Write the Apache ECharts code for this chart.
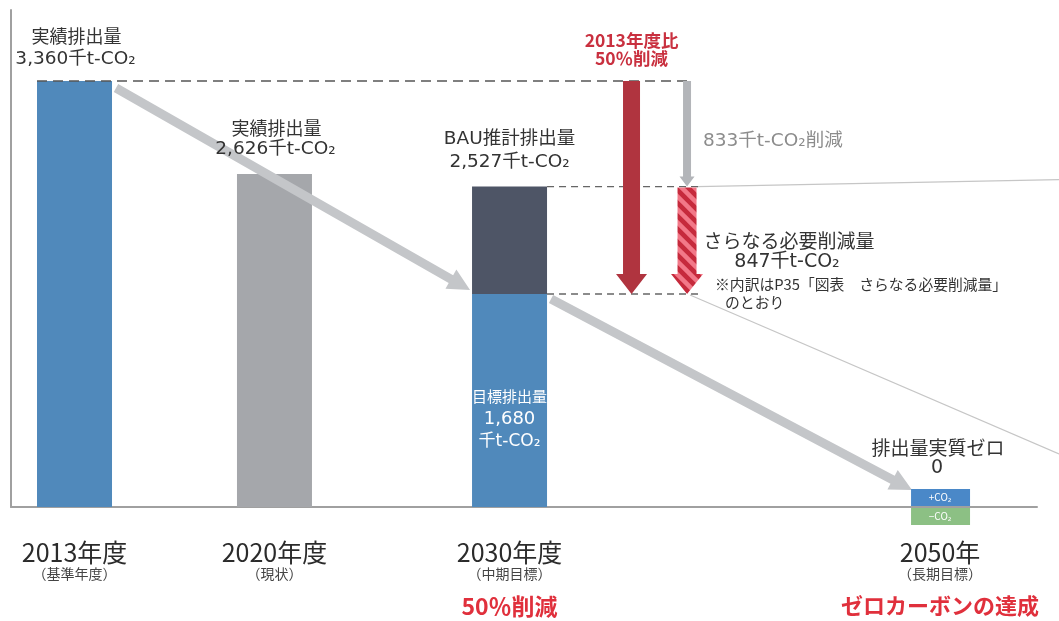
<!DOCTYPE html>
<html><head><meta charset="utf-8">
<script src="https://cdn.jsdelivr.net/npm/echarts@6/dist/echarts.min.js"></script>
<style>html,body{margin:0;padding:0;background:#fff}#c{width:1059px;height:621px}</style>
</head><body><div id="c"></div>
<script>
// ---------------- data ----------------
const categories = ['2013年度', '2020年度', '2030年度', '2050年'];
const categoryNotes = ['（基準年度）', '（現状）', '（中期目標）', '（長期目標）'];
const actualEmissions = [3360, 2626];   // 実績排出量 2013, 2020 (千t-CO2)
const bauEmission2030 = 2527;           // BAU推計排出量
const targetEmission2030 = 1680;        // 目標排出量
const targetEmission2050 = 0;           // 排出量実質ゼロ
const highlights = ['50％削減', 'ゼロカーボンの達成'];

// ---------------- layout / style ----------------
const X_POS = [6.19, 25.68, 48.59, 90.55];   // positions on hidden 0-100 x axis
const X_RED = 60.48, X_GRAY = 65.89;
const BW = 75;
const FONT = '"Noto Sans CJK JP", "Noto Sans", sans-serif';
const FONT_W = '"DejaVu Sans", "Noto Sans CJK JP", sans-serif';
const BLUE = '#5089bb', GREY_BAR = '#a5a7ab', DARK = '#4e5566';
const fmt = v => v.toLocaleString('en-US');
const UNIT = '千t-CO₂';

const baseline = actualEmissions[0];
const reductionBAU = baseline - bauEmission2030;          // 833
const furtherReduction = bauEmission2030 - targetEmission2030; // 847

const barData = [
  [X_POS[0], 0, actualEmissions[0]],
  [X_POS[1], 0, actualEmissions[1]],
  [X_POS[2], 0, targetEmission2030],
  [X_POS[2], targetEmission2030, bauEmission2030]
];
const barColors = [BLUE, GREY_BAR, BLUE, DARK];

function stripePattern() {
  const s = 13;
  const cv = document.createElement('canvas');
  cv.width = s; cv.height = s;
  const g = cv.getContext('2d');
  g.fillStyle = '#c62a3c'; g.fillRect(0, 0, s, s);
  g.strokeStyle = '#f27888'; g.lineWidth = 4.5;
  for (let k = -1; k <= 1; k++) {
    g.beginPath(); g.moveTo(-3, k * s - 3); g.lineTo(s + 3, s + 3 + k * s); g.stroke();
  }
  return cv;
}
const STRIPES = stripePattern();

function vArrow(x, yTop, yTip, sw, hw, hl, fill) {
  const yh = yTip - hl;
  return { type: 'polygon', shape: { points: [
    [x - sw / 2, yTop], [x + sw / 2, yTop], [x + sw / 2, yh], [x + hw / 2, yh],
    [x, yTip], [x - hw / 2, yh], [x - sw / 2, yh]] }, style: { fill: fill } };
}
function dArrow(p1, p2, sw, hw, hl, fill) {
  const dx = p2[0] - p1[0], dy = p2[1] - p1[1], L = Math.hypot(dx, dy);
  const ux = dx / L, uy = dy / L, px = -uy, py = ux;
  const b = [p2[0] - ux * hl, p2[1] - uy * hl];
  const P = (o, s) => [o[0] + px * s, o[1] + py * s];
  return { type: 'polygon', shape: { points: [
    P(p1, sw / 2), P(b, sw / 2), P(b, hw / 2), p2, P(b, -hw / 2), P(b, -sw / 2), P(p1, -sw / 2)] },
    style: { fill: fill } };
}
function line(x1, y1, x2, y2, stroke, w, dash) {
  return { type: 'line', shape: { x1, y1, x2, y2 },
    style: { stroke, lineWidth: w, lineDash: dash || null } };
}
function T(x, y, text, opt) {
  return { type: 'text', x, y, style: Object.assign({
    text, fill: '#333', fontSize: 18, fontFamily: FONT, align: 'center', verticalAlign: 'middle' }, opt || {}) };
}

function decor(params, api) {
  const c = (x, v) => api.coord([x, v]);
  const yBase = c(0, baseline)[1], yBau = c(0, bauEmission2030)[1];
  const yT = c(0, targetEmission2030)[1], y0 = c(0, targetEmission2050)[1];
  const xb0 = c(X_POS[0], 0)[0], xb2 = c(X_POS[2], 0)[0], x50 = c(X_POS[3], 0)[0];
  const xr = c(X_RED, 0)[0], xg = c(X_GRAY, 0)[0];
  const W = api.getWidth();
  const ch = [];
  // thin projection lines
  ch.push(line(xg + 10, yBau, W, yBau - 7, '#c6c6c6', 1.2));
  ch.push(line(xg + 3, yT + 1, W, yT + 160, '#c6c6c6', 1.2));
  // dashed guide lines
  ch.push(line(xb0 - BW / 2, yBase, xg + 4, yBase, '#555', 1.6, [10, 6]));
  ch.push(line(xb2 + BW / 2, yBau, xg + 13, yBau, '#666', 1.3, [7, 5]));
  ch.push(line(xb2 + BW / 2, yT, xg + 13, yT, '#666', 1.3, [7, 5]));
  // vertical arrows
  ch.push(vArrow(xr, yBase, yT, 17, 31, 20, '#b0343f'));
  ch.push(vArrow(xg, yBase, yBau, 8, 15, 10, '#b3b5b9'));
  ch.push(vArrow(xg, yBau + 1, yT, 19, 32, 20, { image: STRIPES, repeat: 'repeat' }));
  // diagonal trend arrows
  ch.push(dArrow([xb0 + BW / 2 + 4, yBase + 7], [xb2 - BW / 2 - 2, yT - 4], 9, 22, 22, '#c4c6c9'));
  ch.push(dArrow([xb2 + BW / 2 + 4, yT + 5], [x50 - 28, y0 - 17], 9, 22, 22, '#c4c6c9'));
  // 2050 +CO2 / -CO2 icon
  ch.push({ type: 'rect', shape: { x: x50 - 29, y: y0 - 18, width: 59, height: 17 }, style: { fill: '#4a88c8' } });
  ch.push({ type: 'rect', shape: { x: x50 - 29, y: y0 + 1, width: 59, height: 17 }, style: { fill: '#8cc084' } });
  ch.push(T(x50, y0 - 9.5, '+CO₂', { fill: '#fff', fontSize: 10 }));
  ch.push(T(x50, y0 + 9.5, '−CO₂', { fill: '#fff', fontSize: 10 }));
  return { type: 'group', children: ch };
}

function labels(params, api) {
  const c = (x, v) => api.coord([x, v]);
  const y0 = c(0, 0)[1];
  const yBase = c(0, baseline)[1], yBau = c(0, bauEmission2030)[1], yT = c(0, targetEmission2030)[1];
  const y2020 = c(0, actualEmissions[1])[1];
  const xs = X_POS.map(x => c(x, 0)[0]);
  const xr = c(X_RED, 0)[0], xg = c(X_GRAY, 0)[0];
  const val = { fontFamily: FONT_W, fontSize: 18.5 };
  const ch = [];
  ch.push(T(xs[0] + 2, yBase - 45, '実績排出量'));
  ch.push(T(xs[0] + 1, yBase - 22, fmt(actualEmissions[0]) + UNIT, val));
  ch.push(T(xs[1] + 2, y2020 - 46, '実績排出量'));
  ch.push(T(xs[1] + 1, y2020 - 25, fmt(actualEmissions[1]) + UNIT, val));
  ch.push(T(xs[2], yBau - 47, 'BAU推計排出量', val));
  ch.push(T(xs[2], yBau - 24, fmt(bauEmission2030) + UNIT, val));
  ch.push(T(xs[2], yT + 102, '目標排出量', { fill: '#fff', fontSize: 15 }));
  ch.push(T(xs[2], yT + 125, fmt(targetEmission2030), { fill: '#fff', fontSize: 18, fontFamily: FONT_W }));
  ch.push(T(xs[2], yT + 148, UNIT, { fill: '#fff', fontSize: 17, fontFamily: FONT_W }));
  const red = { fill: '#c9303f', fontWeight: 'bold', fontSize: 17.5 };
  ch.push(T(xr, yBase - 41, '2013年度比', red));
  ch.push(T(xr, yBase - 23, '50％削減', red));
  ch.push(T(xg + 16, (yBase + yBau) / 2 + 7, fmt(reductionBAU) + UNIT + '削減',
    { fill: '#8c8c8c', align: 'left', fontFamily: FONT_W, fontSize: 18.5 }));
  ch.push(T(xg + 102, (yBau + yT) / 2, 'さらなる必要削減量', { fontSize: 19 }));
  ch.push(T(xg + 100, (yBau + yT) / 2 + 22, fmt(furtherReduction) + UNIT, { fontSize: 19, fontFamily: FONT_W }));
  ch.push(T(xg + 28, (yBau + yT) / 2 + 44, '※内訳はP35「図表　さらなる必要削減量」', { fontSize: 14.8, align: 'left' }));
  ch.push(T(xg + 38, (yBau + yT) / 2 + 62, 'のとおり', { fontSize: 14.8, align: 'left' }));
  ch.push(T(xs[3] - 2, y0 - 59, '排出量実質ゼロ', { fontSize: 19 }));
  ch.push(T(xs[3] - 3, y0 - 39, String(targetEmission2050), { fontSize: 19, fontFamily: FONT_W }));
  categories.forEach((cat, i) => {
    ch.push(T(xs[i], y0 + 45, cat, { fontSize: 25, fill: '#2b2b2b' }));
    ch.push(T(xs[i], y0 + 67, categoryNotes[i], { fontSize: 14, fill: '#444' }));
  });
  const hl = { fill: '#e0303c', fontWeight: 'bold', fontSize: 22 };
  ch.push(T(xs[2], y0 + 99, highlights[0], Object.assign({}, hl, { fontSize: 23 })));
  ch.push(T(xs[3], y0 + 99, highlights[1], hl));
  return { type: 'group', children: ch };
}

const chart = echarts.init(document.getElementById('c'), null, { renderer: 'canvas' });
chart.setOption({
  animation: false,
  backgroundColor: '#fff',
  grid: { left: 11, right: 22, top: 10, bottom: 114, containLabel: false },
  xAxis: { type: 'value', min: 0, max: 100,
    axisLine: { show: true, onZero: true, lineStyle: { color: '#a0a0a0', width: 2 } },
    axisTick: { show: false }, axisLabel: { show: false }, splitLine: { show: false } },
  yAxis: { type: 'value', min: 0, max: 3920,
    axisLine: { show: true, lineStyle: { color: '#a0a0a0', width: 2 } },
    axisTick: { show: false }, axisLabel: { show: false }, splitLine: { show: false } },
  series: [
    { type: 'custom', name: 'bars', clip: false, silent: true, z: 2, data: barData,
      renderItem: function (params, api) {
        const x = api.value(0), lo = api.value(1), hi = api.value(2);
        const p0 = api.coord([x, lo]), p1 = api.coord([x, hi]);
        return { type: 'rect', shape: { x: p0[0] - BW / 2, y: p1[1], width: BW, height: p0[1] - p1[1] },
          style: { fill: barColors[params.dataIndex] } };
      } },
    { type: 'custom', name: 'decor', clip: false, silent: true, z: 3, data: [[0, 0]], renderItem: decor },
    { type: 'custom', name: 'labels', clip: false, silent: true, z: 4, data: [[0, 0]], renderItem: labels }
  ]
});
</script>
</body></html>
